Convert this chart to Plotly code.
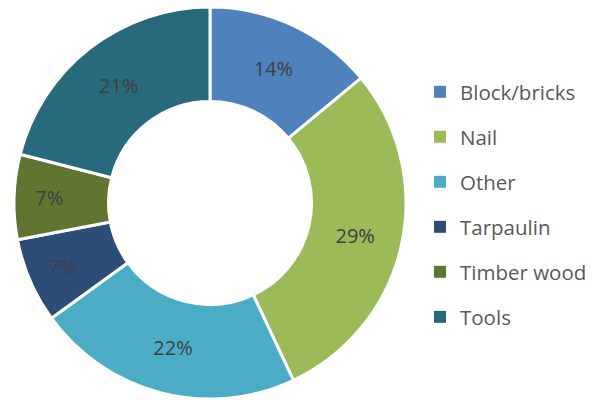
import plotly.graph_objects as go

categories = ["Block/bricks", "Nail", "Other", "Tarpaulin", "Timber wood", "Tools"]
values = [14, 29, 22, 7, 7, 21]
colors = ["#4F81BD", "#9BBB59", "#4BACC6", "#2C4D75", "#5F7530", "#276A7C"]

W, H = 602, 400
cx, cy, r = 210, 203, 196

fig = go.Figure()
fig.add_trace(go.Pie(
    labels=categories, values=values, sort=False, direction="clockwise", rotation=0,
    hole=0.518, marker=dict(colors=colors, line=dict(color="white", width=3)),
    texttemplate="%{percent:.0%}", textposition="inside", insidetextorientation="horizontal",
    textfont=dict(family="Open Sans", size=20, color="#404040"),
    showlegend=False, hoverinfo="label+percent",
    domain=dict(x=[(cx - r) / W, (cx + r) / W], y=[1 - (cy + r) / H, 1 - (cy - r) / H]),
))
for i, (c, col) in enumerate(zip(categories, colors)):
    fig.add_trace(go.Scatter(
        x=[None], y=[None], mode="markers", name=c, legendgroup=c,
        marker=dict(symbol="square", size=9, color=col),
    ))

fig.update_layout(
    width=W, height=H, margin=dict(l=0, r=0, t=0, b=0),
    paper_bgcolor="white", plot_bgcolor="white",
    xaxis=dict(visible=False), yaxis=dict(visible=False),
    legend=dict(x=420 / W, xanchor="left", y=1 - 204.5 / H, yanchor="middle",
                font=dict(family="Open Sans", size=20.5, color="#595959"),
                tracegroupgap=15.35, itemsizing="constant"),
)
fig.write_html("out.html", config={"displayModeBar": False},
               post_script="document.body.style.margin='0';document.body.style.overflow='hidden';")
